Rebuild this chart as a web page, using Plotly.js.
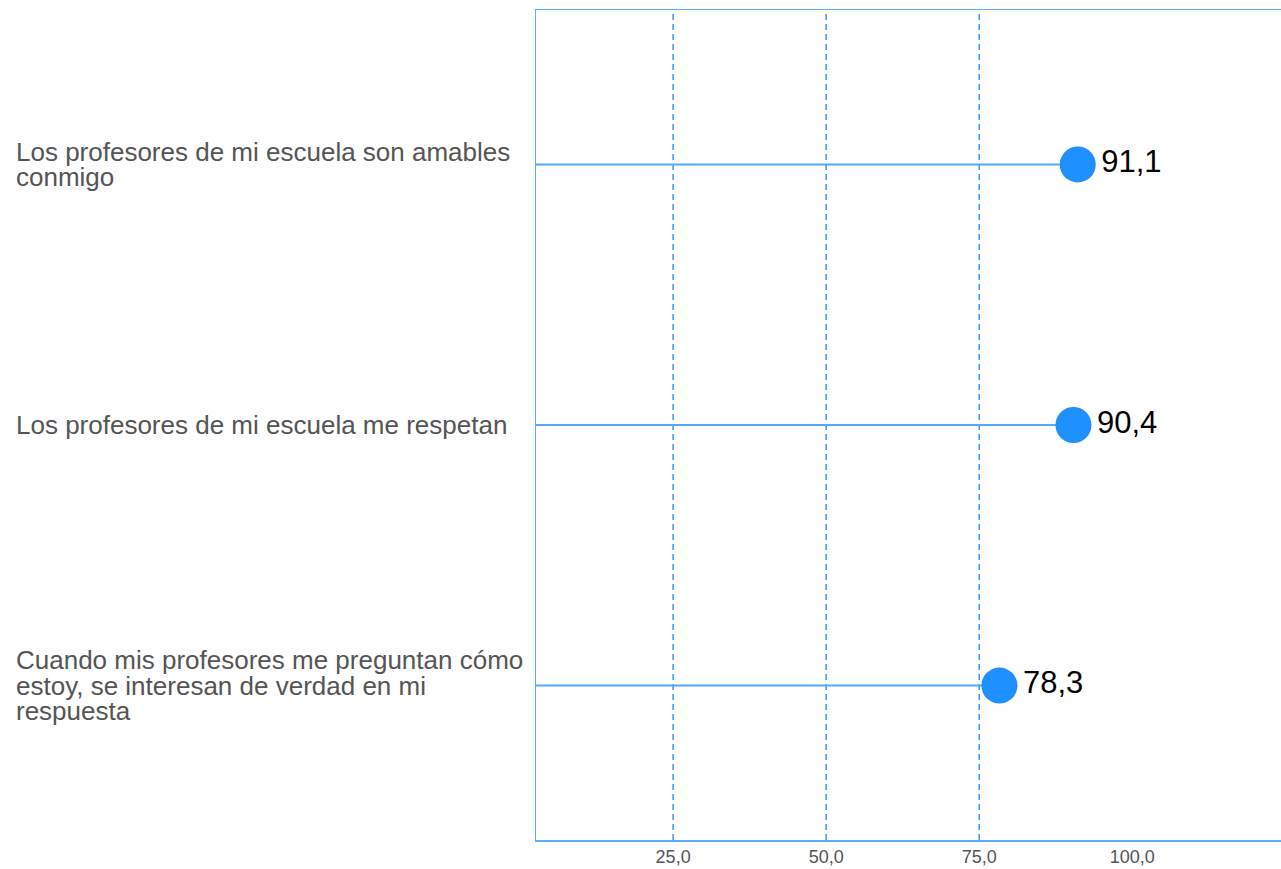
<!DOCTYPE html>
<html>
<head>
<meta charset="utf-8">
<script src="https://cdn.plot.ly/plotly-3.0.1.min.js"></script>
<style>html,body{margin:0;padding:0;background:#fff;}#chart{width:1281px;height:869px;}</style>
</head>
<body>
<div id="chart"></div>
<script>
// Data
const categories = [
  "Los profesores de mi escuela son amables conmigo",
  "Los profesores de mi escuela me respetan",
  "Cuando mis profesores me preguntan cómo estoy, se interesan de verdad en mi respuesta"
];
const labelLines = [
  ["Los profesores de mi escuela son amables", "conmigo"],
  ["Los profesores de mi escuela me respetan"],
  ["Cuando mis profesores me preguntan cómo", "estoy, se interesan de verdad en mi", "respuesta"]
];
const values = [91.1, 90.4, 78.3];
const tickValues = [25, 50, 75, 100];
const gridValues = [25, 50, 75];

const fmt = v => v.toFixed(1).replace('.', ',');

const traces = [];
categories.forEach((c, i) => {
  traces.push({
    type: 'scatter', mode: 'lines',
    x: [0, values[i]], y: [c, c],
    line: {color: '#55a8ff', width: 2},
    hoverinfo: 'skip', showlegend: false
  });
});
traces.push({
  type: 'scatter', mode: 'markers+text',
  x: values, y: categories,
  text: values.map(fmt),
  textposition: 'middle right',
  textfont: {family: 'Liberation Sans, Arial, sans-serif', size: 31, color: '#000'},
  marker: {size: 36, color: '#1e90ff'},
  cliponaxis: false,
  showlegend: false
});

const annotations = [];
labelLines.forEach((lines, i) => {
  lines.forEach((t, j) => {
    annotations.push({
      xref: 'paper', yref: 'y',
      x: -(536 - 14) / 745, y: categories[i],
      xanchor: 'left', yanchor: 'middle', align: 'left',
      text: t, showarrow: false,
      yshift: ((lines.length - 1) / 2 - j) * 25.5,
      font: {family: 'Liberation Sans, Arial, sans-serif', size: 26, color: '#555'}
    });
  });
});

const shapes = gridValues.map(g => ({
  type: 'line', xref: 'x', yref: 'paper',
  x0: g, x1: g, y0: 0, y1: 1,
  line: {color: '#3399ff', width: 1.5, dash: '6px,4px'},
  layer: 'below'
}));

const layout = {
  width: 1281, height: 869,
  margin: {l: 536, r: 0, t: 10, b: 29},
  paper_bgcolor: '#fff', plot_bgcolor: '#fff',
  separators: ',.',
  xaxis: {
    range: [2.6, 124.3],
    tickvals: tickValues,
    ticktext: tickValues.map(fmt),
    showgrid: false, zeroline: false,
    showline: true, mirror: true, linecolor: '#5aaeff', linewidth: 1.5,
    ticks: '', ticklabelstandoff: 0,
    tickfont: {family: 'Liberation Sans, Arial, sans-serif', size: 18, color: '#555'}
  },
  yaxis: {
    type: 'category',
    categoryorder: 'array', categoryarray: categories,
    range: [2.593, -0.593],
    showticklabels: false, showgrid: false, zeroline: false,
    showline: true, linecolor: '#5aaeff', linewidth: 1.5, ticks: ''
  },
  shapes: shapes,
  annotations: annotations,
  hovermode: false
};

Plotly.newPlot('chart', traces, layout, {displayModeBar: false, staticPlot: true});
</script>
</body>
</html>
